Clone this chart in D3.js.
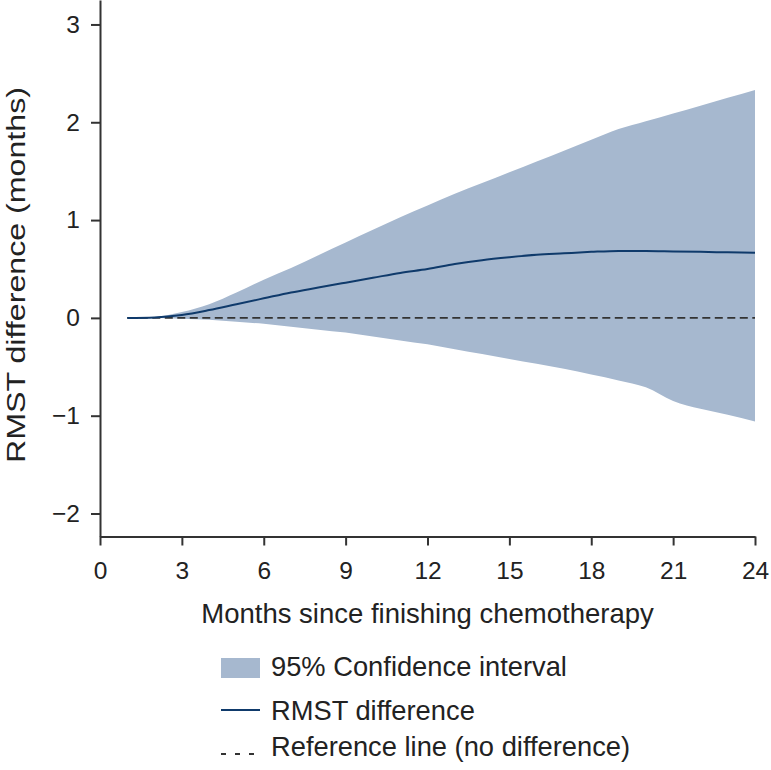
<!DOCTYPE html>
<html lang="en">
<head>
<meta charset="utf-8">
<title>RMST difference</title>
<script src="https://d3js.org/d3.v7.min.js"></script>
<style>
  body { margin: 0; background: #fff; }
  text { font-family: "Liberation Sans", Arial, sans-serif; fill: #222; }
</style>
</head>
<body>
<script>
// months since finishing chemotherapy
var months = [1,2,3,4,5,6,7,8,9,10,11,12,13,14,15,16,17,18,19,20,21,22,23,24];
// RMST difference estimate and 95% CI (months)
var rmstDiff = [0,0.005,0.03,0.08,0.14,0.2,0.26,0.31,0.36,0.41,0.46,0.5,0.55,0.59,0.62,0.645,0.66,0.675,0.685,0.685,0.68,0.675,0.67,0.665];
var ciUpper = [0,0.01,0.06,0.14,0.26,0.39,0.51,0.64,0.77,0.9,1.03,1.15,1.27,1.38,1.49,1.6,1.71,1.82,1.93,2.01,2.09,2.17,2.25,2.33];
var ciLower = [0,0,-0.01,-0.02,-0.04,-0.06,-0.09,-0.12,-0.15,-0.19,-0.23,-0.27,-0.32,-0.37,-0.42,-0.47,-0.52,-0.58,-0.64,-0.71,-0.85,-0.93,-0.99,-1.06];
var xTicks = [0,3,6,9,12,15,18,21,24];
var yTicks = [-2,-1,0,1,2,3];
var legendLabels = ["95% Confidence interval", "RMST difference", "Reference line (no difference)"];

var W = 771, H = 770;
var fillColor = "#a6b8cf", lineColor = "#0f3a6b", axisColor = "#333";

var svg = d3.select("body").append("svg")
    .attr("width", W).attr("height", H);

var x = d3.scaleLinear().domain([0, 24]).range([100, 755]);
var y = d3.scaleLinear().domain([-2.235, 3.25]).range([536.5, 0]);

var rows = months.map(function(m, i) {
    return { m: m, v: rmstDiff[i], lo: ciLower[i], hi: ciUpper[i] };
});

// confidence band
svg.append("path")
    .datum(rows)
    .attr("fill", fillColor)
    .attr("d", d3.area()
        .x(function(d) { return x(d.m); })
        .y0(function(d) { return y(d.lo); })
        .y1(function(d) { return y(d.hi); })
        .curve(d3.curveMonotoneX));

// reference line at zero
svg.append("line")
    .attr("x1", x(1)).attr("x2", x(24))
    .attr("y1", y(0)).attr("y2", y(0))
    .attr("stroke", axisColor).attr("stroke-width", 1.8)
    .attr("stroke-dasharray", "8,4.5");

// estimate
svg.append("path")
    .datum(rows)
    .attr("fill", "none")
    .attr("stroke", lineColor)
    .attr("stroke-width", 2)
    .attr("d", d3.line()
        .x(function(d) { return x(d.m); })
        .y(function(d) { return y(d.v); })
        .curve(d3.curveMonotoneX));

// axes
var xAxis = svg.append("g")
    .attr("transform", "translate(0," + y.range()[0] + ")")
    .call(d3.axisBottom(x).tickValues(xTicks).tickSize(9).tickPadding(16).tickSizeOuter(0));
var yAxis = svg.append("g")
    .attr("transform", "translate(" + x(0) + ",0)")
    .call(d3.axisLeft(y).tickValues(yTicks).tickSize(9).tickPadding(11).tickSizeOuter(0)
        .tickFormat(function(d) { return d < 0 ? "\u2212" + Math.abs(d) : d; }));

[xAxis, yAxis].forEach(function(g) {
    g.select(".domain").attr("stroke", axisColor).attr("stroke-width", 2);
    g.selectAll(".tick line").attr("stroke", axisColor).attr("stroke-width", 2);
    g.selectAll(".tick text").attr("font-size", 24.5).attr("fill", "#222")
        .style("font-family", "'Liberation Sans', Arial, sans-serif");
});

// axis titles
svg.append("text")
    .attr("x", 427.5).attr("y", 623)
    .attr("text-anchor", "middle")
    .attr("font-size", 27.5)
    .text("Months since finishing chemotherapy");

// the y title is drawn stretched along its length in the original
svg.append("text")
    .attr("transform", "translate(25,275) rotate(-90)")
    .attr("x", -188)
    .attr("font-size", 26.5)
    .attr("textLength", 376)
    .attr("lengthAdjust", "spacingAndGlyphs")
    .text("RMST difference (months)");

// legend
var legend = svg.append("g").attr("transform", "translate(221,0)");
var legendBase = [676, 720, 756];

legend.append("rect")
    .attr("x", 0).attr("y", 658)
    .attr("width", 39).attr("height", 20)
    .attr("fill", fillColor);
legend.append("line")
    .attr("x1", 0).attr("x2", 39)
    .attr("y1", 710).attr("y2", 710)
    .attr("stroke", lineColor).attr("stroke-width", 2);
legend.append("line")
    .attr("x1", 0).attr("x2", 34)
    .attr("y1", 754).attr("y2", 754)
    .attr("stroke", axisColor).attr("stroke-width", 1.8)
    .attr("stroke-dasharray", "5,9");

legend.selectAll("text.lab")
    .data(legendLabels)
    .enter().append("text")
    .attr("class", "lab")
    .attr("x", 50)
    .attr("y", function(d, i) { return legendBase[i]; })
    .attr("font-size", 27.3)
    .text(function(d) { return d; });
</script>
</body>
</html>
